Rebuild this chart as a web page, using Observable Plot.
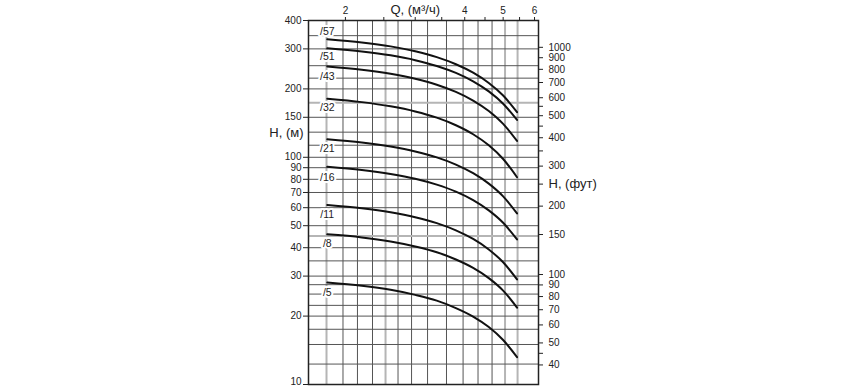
<!DOCTYPE html>
<html><head><meta charset="utf-8">
<script src="https://cdn.jsdelivr.net/npm/d3@7"></script>
<script src="https://cdn.jsdelivr.net/npm/@observablehq/plot@0.6"></script>
<style>
body{margin:0;background:#fff;}
#chart svg{font-family:"Liberation Sans",Arial,sans-serif;}
</style>
</head><body><div id="chart"></div>
<script>
// Flow (m³/h) at which heads were read
const flowQ = [1.8, 2.2, 2.6, 3.0, 3.4, 3.8, 4.2, 4.6, 5.0, 5.42];
const models = ["/57", "/51", "/43", "/32", "/21", "/16", "/11", "/8", "/5"];
const head57 = [331, 320.4, 307.7, 292.8, 275.9, 256.8, 235.7, 212.4, 187.0, 158];
const head51 = [302, 292.4, 281.0, 267.6, 252.3, 235.1, 216.0, 195.0, 172.1, 146];
const head43 = [251, 242.9, 233.1, 221.7, 208.7, 194.0, 177.7, 159.8, 140.3, 118];
const head32 = [181, 174.9, 167.6, 159.1, 149.4, 138.4, 126.3, 112.9, 98.3, 81.7];
const head21 = [120, 116.2, 111.5, 106.1, 99.9, 92.9, 85.1, 76.6, 67.3, 56.6];
const head16 = [90.9, 88.0, 84.5, 80.5, 75.8, 70.6, 64.8, 58.4, 51.5, 43.5];
const head11 = [61.7, 59.7, 57.3, 54.5, 51.3, 47.7, 43.7, 39.3, 34.5, 29.0];
const head8  = [45.8, 44.4, 42.6, 40.5, 38.2, 35.5, 32.6, 29.4, 25.9, 21.8];
const head5  = [28.1, 27.2, 26.1, 24.8, 23.4, 21.7, 19.9, 17.9, 15.7, 13.2];
const labelHead = [357, 276, 226, 165, 109, 81.6, 55.7, 41.5, 25.3];
const labelFlow = 1.8;

// Axes
const leftTicks = [400, 300, 200, 150, 100, 90, 80, 70, 60, 50, 40, 30, 20];
const leftBottomTick = [10];
const rightTicksFt = [1000, 900, 800, 700, 600, 500, 400, 300, 200, 150, 100, 90, 80, 70, 60, 50, 40];
const rightMinorFt = [550, 450, 350, 250, 45];
const topTicks = [2, 4, 5, 6];
const topMinor = [2.5, 3, 3.5, 4.5, 5.5];
const FT = 0.3048;

// Grid
const gridQ = [1.972, 2.145, 2.341, 2.715, 2.937, 3.223, 3.598, 3.962, 4.321, 4.688];
const gridQGray = [1.792, 2.525, 5.055, 5.437];
const gridH = [12.3, 15, 17.5, 20, 22.3, 25, 27.5, 30, 35, 40, 50, 60, 70, 80, 90, 100, 113, 129, 150, 200, 223, 253, 300, 343];
const gridHGray = [45, 174];

const heads = [head57, head51, head43, head32, head21, head16, head11, head8, head5];
const rows = [];
models.forEach((m, i) => flowQ.forEach((q, j) => rows.push({model: m, q, h: heads[i][j]})));
const labels = models.map((m, i) => ({model: m, q: labelFlow, h: labelHead[i]}));
const rightLabels = rightTicksFt.map(f => ({m: f * FT, t: String(f)}));

const chart = Plot.plot({
  width: 868, height: 388,
  marginLeft: 308, marginRight: 330, marginTop: 20, marginBottom: 4,
  x: {type: "log", domain: [1.614, 6.14]},
  y: {type: "log", domain: [10, 400]},
  style: {fontFamily: "'Liberation Sans', Arial, sans-serif", fontSize: "10px", color: "#222", background: "#fff"},
  marks: [
    Plot.ruleX(gridQ, {stroke: "#555", strokeWidth: 1}),
    Plot.ruleX(gridQGray, {stroke: "#b5b5b5", strokeWidth: 2}),
    Plot.ruleY(gridH, {stroke: "#555", strokeWidth: 1}),
    Plot.ruleY(gridHGray, {stroke: "#b5b5b5", strokeWidth: 2}),
    Plot.line(rows, {x: "q", y: "h", z: "model", stroke: "#111", strokeWidth: 2, curve: "monotone-x"}),
    Plot.text(labels, {x: "q", y: "h", text: "model", textAnchor: "middle", fontSize: 10.5, fill: "#222", stroke: "#fff", strokeWidth: 4}),
    Plot.frame({stroke: "#222", strokeWidth: 1.5}),
    // left axis: tick marks + labels
    Plot.axisY({anchor: "left", ticks: leftTicks.concat(leftBottomTick), tickFormat: () => "", tickSize: 5, label: null}),
    Plot.text(leftTicks, {y: d => d, frameAnchor: "left", dx: -7, textAnchor: "end", text: d => String(d), fontSize: 10, fill: "#222"}),
    Plot.text(leftBottomTick, {y: d => d, frameAnchor: "left", dx: -7, dy: -3, textAnchor: "end", text: d => String(d), fontSize: 10, fill: "#222"}),
    // right axis (feet)
    Plot.axisY({anchor: "right", ticks: rightTicksFt.map(f => f * FT), tickFormat: () => "", tickSize: 4, label: null}),
    Plot.axisY({anchor: "right", ticks: rightMinorFt.map(f => f * FT), tickFormat: () => "", tickSize: 4, label: null}),
    Plot.text(rightLabels, {y: "m", frameAnchor: "right", dx: 10, textAnchor: "start", text: "t", fontSize: 10, fill: "#222"}),
    // top axis
    Plot.axisX({anchor: "top", ticks: topTicks, tickFormat: d => String(d), tickSize: 4, tickPadding: 3, label: null}),
    Plot.axisX({anchor: "top", ticks: topMinor, tickFormat: () => "", tickSize: 4, label: null}),
    Plot.text(["Q, (м³/ч)"], {x: () => 3, frameAnchor: "top", dy: -11, lineAnchor: "middle", text: d => d, fontSize: 13, fill: "#222", stroke: "#fff", strokeWidth: 3}),
    Plot.text(["H, (м)"], {y: () => 128, frameAnchor: "left", dx: -5, textAnchor: "end", text: d => d, fontSize: 13, fill: "#222"}),
    Plot.text(["H, (фут)"], {y: () => 250 * FT, frameAnchor: "right", dx: 10, textAnchor: "start", text: d => d, fontSize: 13, fill: "#222"})
  ]
});
document.getElementById("chart").appendChild(chart);
</script>
</body></html>
